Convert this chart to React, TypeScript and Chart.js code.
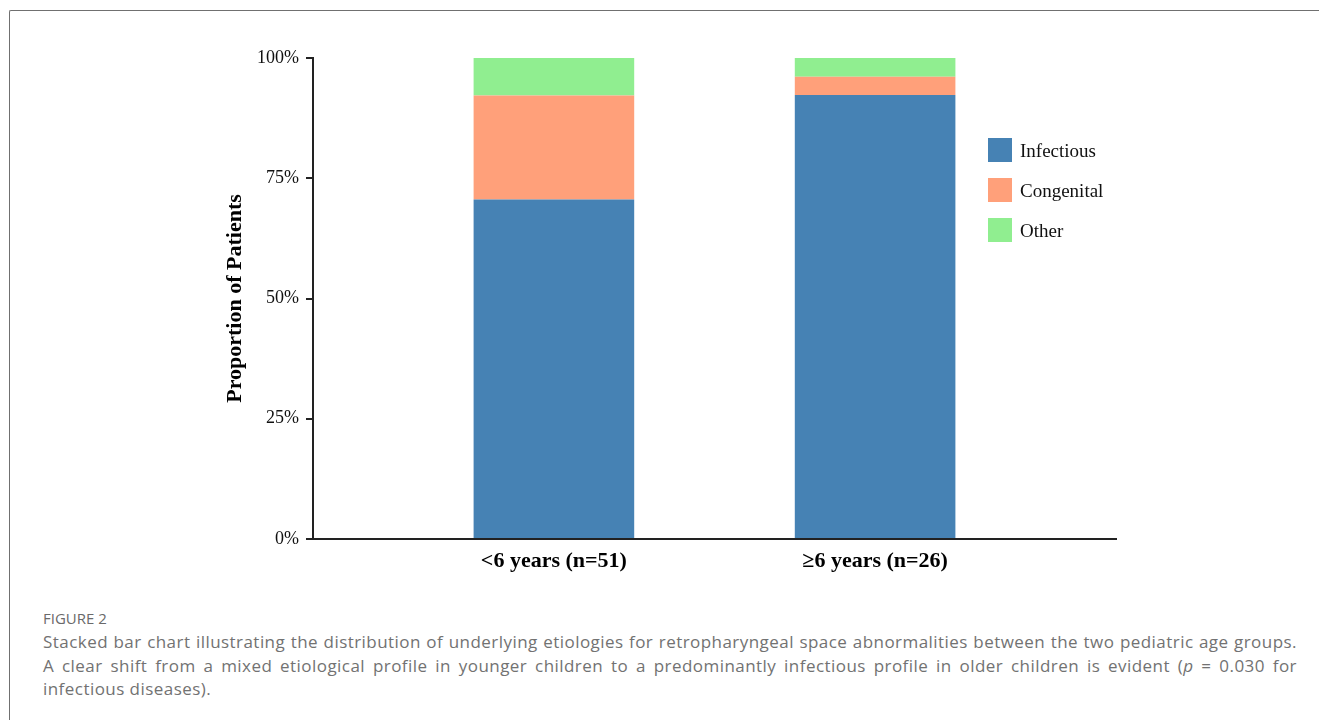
import React, { useEffect, useRef } from 'react';
import { Chart, registerables } from 'chart.js';

Chart.register(...registerables);

const categories = ['<6 years (n=51)', '≥6 years (n=26)'];
const seriesNames = ['Infectious', 'Congenital', 'Other'];
const infectious = [70.6, 92.3];
const congenital = [21.6, 3.8];
const other = [7.8, 3.9];
const seriesColors = ['#4682B4', '#FFA07A', '#90EE90'];
const yTickValues = [0, 25, 50, 75, 100];
const yTitle = 'Proportion of Patients';

const seriesValues = [infectious, congenital, other];

const serif = '"Liberation Serif", "Times New Roman", serif';

const legendPlugin = {
  id: 'insideLegend',
  afterDraw(chart: any) {
    const { ctx, chartArea } = chart;
    ctx.save();
    chart.data.datasets.forEach((ds: any, i: number) => {
      const x = chartArea.right - 128;
      const y = chartArea.top + 80 + i * 40;
      ctx.fillStyle = ds.backgroundColor;
      ctx.fillRect(x, y, 24, 24);
      ctx.fillStyle = '#111';
      ctx.font = `19px ${serif}`;
      ctx.textBaseline = 'middle';
      ctx.textAlign = 'left';
      ctx.fillText(ds.label, x + 32, y + 14);
    });
    ctx.restore();
  },
};

function BarChart() {
  const ref = useRef<HTMLCanvasElement | null>(null);
  useEffect(() => {
    if (!ref.current) return;
    const chart = new Chart(ref.current, {
      type: 'bar',
      data: {
        datasets: seriesNames.map((name, si) => ({
          label: name,
          data: seriesValues[si].map((v, i) => ({ x: i, y: v })),
          backgroundColor: seriesColors[si],
          borderWidth: 0,
          barPercentage: 0.5,
          categoryPercentage: 1,
          stack: 'all',
        })),
      },
      options: {
        responsive: false,
        animation: false,
        devicePixelRatio: 1,
        layout: { padding: { top: 58, left: 218, right: 203, bottom: 11 } },
        plugins: { legend: { display: false }, tooltip: { enabled: false } },
        scales: {
          x: {
            type: 'linear',
            offset: false,
            bounds: 'data',
            stacked: true,
            min: -0.75,
            max: 1.75,
            afterBuildTicks: (s: any) => {
              s.ticks = categories.map((_, i) => ({ value: i }));
            },
            afterFit: (s: any) => {
              s.height = 40;
            },
            ticks: {
              autoSkip: false,
              maxRotation: 0,
              padding: 9,
              color: '#000',
              font: { family: serif, size: 22, weight: 'bold' },
              callback: (v: any) => categories[v] ?? '',
            },
            grid: { display: false, drawTicks: false, offset: false },
            border: { display: true, color: '#222', width: 2 },
          },
          y: {
            stacked: true,
            min: 0,
            max: 100,
            afterBuildTicks: (s: any) => {
              s.ticks = yTickValues.map((v) => ({ value: v }));
            },
            afterFit: (s: any) => {
              s.width = 95;
            },
            ticks: {
              padding: 7,
              color: '#111',
              font: { family: serif, size: 18 },
              callback: (v: any) => `${v}%`,
            },
            grid: {
              display: true,
              drawOnChartArea: false,
              drawTicks: true,
              tickLength: 7,
              lineWidth: 2,
              color: '#222',
            },
            border: { display: true, color: '#222', width: 2 },
            title: {
              display: true,
              text: yTitle,
              color: '#000',
              padding: { top: 4, bottom: 0 },
              font: { family: serif, size: 22, weight: 'bold' },
            },
          },
        },
      },
      plugins: [legendPlugin],
    } as any);
    return () => chart.destroy();
  }, []);
  return <canvas ref={ref} width={1319} height={590} style={{ position: 'absolute', left: 0, top: 0, display: 'block' }} />;
}

export default function App() {
  const captionFont = '"Open Sans", Lato, sans-serif';
  const lineStyle: React.CSSProperties = {
    textAlign: 'justify',
    textAlignLast: 'justify',
    whiteSpace: 'nowrap',
  };
  return (
    <div style={{ position: 'absolute', left: 0, top: 0, width: 1319, height: 720, overflow: 'hidden', background: '#fff' }}>
      <div
        style={{
          position: 'absolute',
          left: 9,
          top: 10,
          width: 1400,
          height: 800,
          borderLeft: '1px solid #707070',
          borderTop: '1px solid #707070',
          borderTopLeftRadius: 2,
        }}
      />
      <BarChart />
      <div style={{ position: 'absolute', left: 43, top: 606, width: 1254, fontFamily: captionFont, color: '#727272' }}>
        <div style={{ fontSize: 15, lineHeight: '24px', color: '#6a6a6a' }}>FIGURE 2</div>
        <div style={{ fontSize: 17, lineHeight: '23.5px', letterSpacing: 0.45 }}>
          <div style={lineStyle}>
            Stacked bar chart illustrating the distribution of underlying etiologies for retropharyngeal space abnormalities between the two pediatric age groups.
          </div>
          <div style={lineStyle}>
            A clear shift from a mixed etiological profile in younger children to a predominantly infectious profile in older children is evident (<i>p</i> = 0.030 for
          </div>
          <div>infectious diseases).</div>
        </div>
      </div>
    </div>
  );
}
